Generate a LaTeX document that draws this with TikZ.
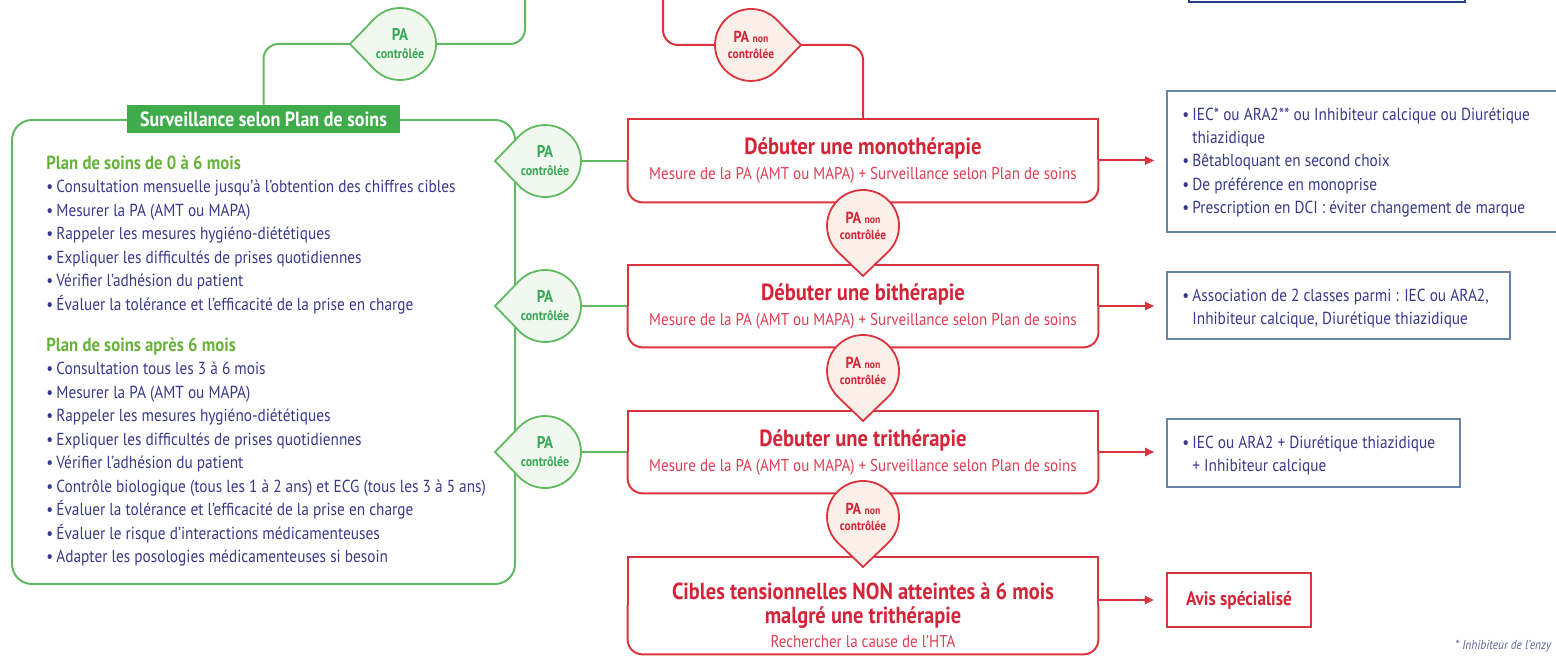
\documentclass[tikz,border=0pt]{standalone}
\usepackage{fontspec}
\setmainfont{PT Sans}[FakeStretch=0.88]
\usetikzlibrary{calc,arrows.meta}
\pgfdeclarelayer{back}
\pgfsetlayers{back,main}
\definecolor{cGreenLine}{RGB}{98,186,96}
\definecolor{cGreen}{RGB}{62,172,74}
\definecolor{cGreenFill}{RGB}{241,248,239}
\definecolor{cGreenTxt}{RGB}{55,168,85}
\definecolor{cHead}{RGB}{104,178,58}
\definecolor{cRed}{RGB}{219,52,62}
\definecolor{cRedFill}{RGB}{251,239,234}
\definecolor{cRedTxt}{RGB}{212,36,55}
\definecolor{cRedSub}{RGB}{222,62,82}
\definecolor{cNavy}{RGB}{58,56,138}
\definecolor{cBlueBox}{RGB}{104,132,168}
\definecolor{cDarkBlue}{RGB}{38,62,140}
\definecolor{cFoot}{RGB}{95,100,150}
\newcommand\bulletmark{\makebox[5pt][l]{\textbullet}}
\newcommand\halfround[1]{%
  \draw[redline] (#1.west) -- (#1.north west) -- (#1.north east) -- (#1.east);
  \draw[redline, rounded corners=7.5pt] (#1.west) -- (#1.south west) -- (#1.south east) -- (#1.east);}
\newcommand\teardrop[4]{%
  \path[draw=#3, line width=0.9pt, fill=#4] ($(#1)+(#2:25pt)$) -- ($(#1)+(#2+44:18pt)$) arc[start angle=#2+44, end angle=#2+316, radius=18pt] -- cycle;}
\newcommand\subline[1]{{\fontsize{8.55}{12.5}\selectfont\mdseries\color{cRedSub}#1}}
\tikzset{
 redline/.style={draw=cRed, line width=1pt},
 greenline/.style={draw=cGreenLine, line width=1pt},
 redarrow/.style={redline, -{Triangle[length=4.5pt,width=4pt]}, shorten >=6pt},
 redbox/.style={minimum width=235pt, inner sep=0pt, align=center, text=cRedTxt, font=\fontsize{11.7}{12.5}\selectfont\bfseries},
 bluebox/.style={draw=cBlueBox, line width=0.8pt, inner sep=0pt},
 listtext/.style={anchor=north west, inner sep=0pt, align=left, text=cNavy, font=\fontsize{8.7}{11.75}\selectfont},
 gmark/.style={circle, minimum size=36pt, inner sep=0pt, align=center, text=cGreenTxt, font=\fontsize{8.5}{9}\selectfont\bfseries},
 rmark/.style={circle, minimum size=36pt, inner sep=0pt, align=center, text=cRedTxt, font=\fontsize{8}{8}\selectfont\bfseries},
}
\newcommand\gtext{PA\\{\fontsize{6.8}{9}\selectfont contrôlée}}
\newcommand\rtext{PA {\fontsize{5.5}{8}\selectfont non}\\{\fontsize{6.5}{8}\selectfont contrôlée}}
\begin{document}
\begin{tikzpicture}[x=0.5pt,y=-0.5pt]
\useasboundingbox (0,0) rectangle (1556,656);
\clip (0,0) rectangle (1556,656);

% main green box and title
\node[draw=cGreenLine, line width=1pt, rounded corners=10pt, minimum width=251.5pt, minimum height=232pt, inner sep=0pt] (planbox) at (263.5,352) {};
\node[fill=cGreen, text=white, minimum width=136.5pt, minimum height=14pt, inner sep=0pt, font=\fontsize{10.25}{10.25}\selectfont\bfseries] (title) at (263.5,119) {Surveillance selon Plan de soins};

\node[listtext] (list1) at (46,155) {%
{\color{cHead}\fontsize{9.5}{11.75}\selectfont\bfseries Plan de soins de 0 à 6 mois}\\
\bulletmark Consultation mensuelle jusqu'à l'obtention des chiffres cibles\\
\bulletmark Mesurer la PA (AMT ou MAPA)\\
\bulletmark Rappeler les mesures hygiéno-diététiques\\
\bulletmark Expliquer les difficultés de prises quotidiennes\\
\bulletmark Vérifier l'adhésion du patient\\
\bulletmark Évaluer la tolérance et l'efficacité de la prise en charge};

\node[listtext] (list2) at (46,337) {%
{\color{cHead}\fontsize{9.5}{11.75}\selectfont\bfseries Plan de soins après 6 mois}\\
\bulletmark Consultation tous les 3 à 6 mois\\
\bulletmark Mesurer la PA (AMT ou MAPA)\\
\bulletmark Rappeler les mesures hygiéno-diététiques\\
\bulletmark Expliquer les difficultés de prises quotidiennes\\
\bulletmark Vérifier l'adhésion du patient\\
\bulletmark Contrôle biologique (tous les 1 à 2 ans) et ECG (tous les 3 à 5 ans)\\
\bulletmark Évaluer la tolérance et l'efficacité de la prise en charge\\
\bulletmark Évaluer le risque d'interactions médicamenteuses\\
\bulletmark Adapter les posologies médicamenteuses si besoin};

% red boxes
\node[redbox, minimum height=41.5pt] (mono) at (863,160.5) {Débuter une monothérapie\\\subline{Mesure de la PA (AMT ou MAPA) + Surveillance selon Plan de soins}};
\halfround{mono}
\node[redbox, minimum height=41pt] (bith) at (863,306) {Débuter une bithérapie\\\subline{Mesure de la PA (AMT ou MAPA) + Surveillance selon Plan de soins}};
\halfround{bith}
\node[redbox, minimum height=41pt] (trith) at (863,452) {Débuter une trithérapie\\\subline{Mesure de la PA (AMT ou MAPA) + Surveillance selon Plan de soins}};
\halfround{trith}
\node[redbox, minimum height=48.5pt] (last) at (863,605.5) {};
\halfround{last}
\node[redbox, minimum width=0pt, font=\fontsize{11.6}{12}\selectfont\bfseries] (lasttxt) at (863,615) {Cibles tensionnelles NON atteintes à 6 mois\\malgré une trithérapie\\\subline{Rechercher la cause de l'HTA}};

% right boxes
\node[bluebox, minimum width=210pt, minimum height=70.5pt] (b1) at (1377,161.5) {};
\node[listtext, anchor=west, font=\fontsize{8.7}{11.65}\selectfont] (b1t) at (1182,162.5) {%
\bulletmark IEC* ou ARA2** ou Inhibiteur calcique ou Diurétique\\
\hspace*{5pt}thiazidique\\
\bulletmark Bêtabloquant en second choix\\
\bulletmark De préférence en monoprise\\
\bulletmark Prescription en DCI : éviter changement de marque};
\node[bluebox, minimum width=171.5pt, minimum height=33.5pt] (b2) at (1338.5,305.5) {};
\node[listtext, anchor=west, font=\fontsize{8.7}{11.65}\selectfont] (b2t) at (1182,308.5) {%
\bulletmark Association de 2 classes parmi : IEC ou ARA2,\\
\hspace*{5pt}Inhibiteur calcique, Diurétique thiazidique};
\node[bluebox, minimum width=146.5pt, minimum height=34pt] (b3) at (1313.5,453) {};
\node[listtext, anchor=west, font=\fontsize{8.7}{11.65}\selectfont] (b3t) at (1182,455.5) {%
\bulletmark IEC ou ARA2 + Diurétique thiazidique\\
\hspace*{5pt}+ Inhibiteur calcique};
\node[draw=cRed, line width=1.1pt, minimum width=72pt, minimum height=27pt, inner sep=0pt, text=cRedTxt, font=\fontsize{9.8}{10}\selectfont\bfseries] (avis) at (1239,600) {Avis spécialisé};

% top box (cut off)
\node[draw=cDarkBlue, line width=1.3pt, minimum width=138pt, minimum height=20pt, inner sep=0pt] (topbox) at (1327,-18) {};
\coordinate (gtop) at (525,-10);
\coordinate (rtop) at (663,-10);

% markers
\coordinate (gtc) at (400,44);
\coordinate (rtc) at (751,45);
\coordinate (g1c) at (545,161);
\coordinate (g2c) at (545,306);
\coordinate (g3c) at (545,452);
\coordinate (r1c) at (863,226);
\coordinate (r2c) at (863,371);
\coordinate (r3c) at (863,517);

\teardrop{gtc}{180}{cGreenLine}{cGreenFill}
\node[gmark] (gt) at (gtc) {\gtext};
\coordinate (gt-tip) at ($(gtc)+(180:25pt)$);
\teardrop{rtc}{0}{cRed}{cRedFill}
\node[rmark] (rt) at (rtc) {\rtext};
\coordinate (rt-tip) at ($(rtc)+(0:25pt)$);

\foreach \n in {g1,g2,g3}{
  \teardrop{\n c}{180}{cGreenLine}{cGreenFill}
  \node[gmark] (\n) at (\n c) {\gtext};
}
\foreach \n in {r1,r2,r3}{
  \teardrop{\n c}{270}{cRed}{cRedFill}
  \node[rmark] (\n) at (\n c) {\rtext};
}

% footnote
\node[anchor=base west, inner sep=0pt, text=cFoot, font=\fontsize{6.5}{7}\selectfont\itshape] (foot) at (1455,649) {* Inhibiteur de l'enzy};

% connectors
\begin{pgfonlayer}{back}
\draw[greenline, rounded corners=7.5pt] (gtop) |- (gt.east);
\draw[greenline, rounded corners=7.5pt] (gt-tip) -| (title.north);
\draw[redline, rounded corners=7.5pt] (rtop) |- (rt.west);
\draw[redline, rounded corners=7.5pt] (rt-tip) -| (mono.north);
\draw[greenline] (g1.east) -- (g1.east -| mono.west);
\draw[greenline] (g2.east) -- (g2.east -| bith.west);
\draw[greenline] (g3.east) -- (g3.east -| trith.west);
\end{pgfonlayer}
\draw[redarrow] (mono.east) -- (mono.east -| b1.west);
\draw[redarrow] (bith.east) -- (bith.east -| b2.west);
\draw[redarrow] (trith.east) -- (trith.east -| b3.west);
\draw[redarrow] (last.east |- avis.west) -- (avis.west);
\end{tikzpicture}
\end{document}
